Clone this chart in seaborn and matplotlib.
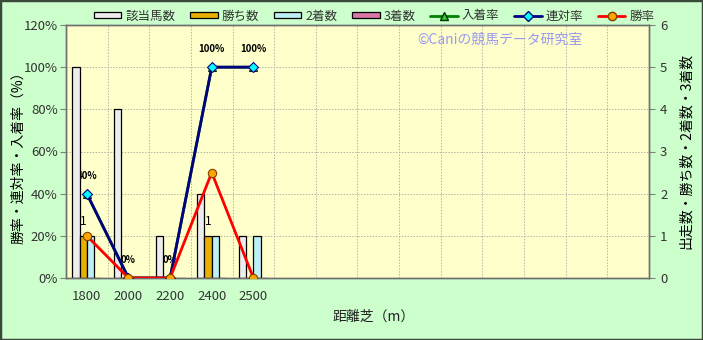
import numpy as np
import pandas as pd
import matplotlib
matplotlib.use("Agg")
import matplotlib.pyplot as plt
import seaborn as sns
from matplotlib.patches import Patch, Rectangle
from matplotlib.lines import Line2D

# ---- data ----
distances = ["1800", "2000", "2200", "2400", "2500"]
n_slots = 14  # total category slots on the x axis
count_series = ["該当馬数", "勝ち数", "2着数", "3着数"]
runners = [5, 4, 1, 2, 1]
wins = [1, 0, 0, 1, 0]
seconds = [1, 0, 0, 1, 1]
thirds = [0, 0, 0, 0, 0]
place_rate = [40, 0, 0, 100, 100]     # 入着率
quinella_rate = [40, 0, 0, 100, 100]  # 連対率
win_rate = [20, 0, 0, 50, 0]          # 勝率
pct_ticks = [0, 20, 40, 60, 80, 100, 120]
count_ticks = [0, 1, 2, 3, 4, 5, 6]

sns.set_theme(style="white")
plt.rcParams["font.family"] = ["Noto Sans CJK JP", "DejaVu Sans"]

FIG_BG = "#CCFFCC"
PLOT_BG = "#FFFFCC"
bar_colors = ["#EDEDED", "#E8B000", "#BDEFF6", "#D877A8"]

fig = plt.figure(figsize=(7.03, 3.40), dpi=100, facecolor=FIG_BG)
ax = fig.add_axes([66/703, 1-278/340, (649-66)/703, (278-25)/340])
ax2 = ax.twinx()
ax.set_zorder(2)
ax2.set_zorder(1)
ax.patch.set_visible(False)
ax2.patch.set_visible(True)
ax2.patch.set_facecolor(PLOT_BG)
ax2.xaxis.set_visible(True)

df = pd.DataFrame({
    "dist": np.repeat(distances, 4),
    "series": count_series * len(distances),
    "value": np.ravel(np.column_stack([runners, wins, seconds, thirds])),
})
sns.barplot(data=df, x="dist", y="value", hue="series", order=distances,
            hue_order=count_series, palette=bar_colors, width=0.70,
            saturation=1, edgecolor="black", linewidth=0.9, ax=ax2,
            legend=False, zorder=2)

x = np.arange(len(distances))
ax.plot(x, place_rate, color="#008000", lw=2, marker="^", ms=6,
        mfc="#33CC33", mec="#003300", mew=0.8, zorder=3)
ax.plot(x, quinella_rate, color="#000080", lw=2, marker="D", ms=5,
        mfc="#00FFFF", mec="#000080", mew=0.8, zorder=4)
ax.plot(x, win_rate, color="#FF0000", lw=2, marker="o", ms=6,
        mfc="#FFA500", mec="#804000", mew=0.8, zorder=5)

# labels (behind bars, like the reference)
for xi, v in zip(x, quinella_rate):
    ax2.annotate(f"{v}%", xy=(xi, v), xycoords=ax.transData,
                 xytext=(0, 13), textcoords="offset points", ha="center",
                 va="center", fontsize=7, fontweight="bold",
                 color="black", zorder=1.5)
bar_w = 0.70 / 4
for xi, v in zip(x, wins):
    if v > 0:
        ax2.annotate(f"{v}", xy=(xi - bar_w/2, v), xytext=(0, 10),
                     textcoords="offset points", ha="center", va="center",
                     fontsize=8.5, color="black", zorder=1.5)

# axes limits & ticks
ax.set_xlim(-0.5, n_slots - 0.5)
ax2.set_xlim(-0.5, n_slots - 0.5)
ax.set_ylim(0, 120)
ax2.set_ylim(0, 6)
ax.set_yticks(pct_ticks)
ax.set_yticklabels([f"{t}%" for t in pct_ticks])
ax2.set_yticks(count_ticks)
ax2.set_yticklabels([str(t) for t in count_ticks])
ax.set_xticks(x)
ax.set_xticklabels(distances)
ax2.xaxis.set_ticks(np.arange(n_slots + 1) - 0.5, minor=True)

tick_color = "#333333"
ax.tick_params(axis="x", length=0, pad=9, labelsize=9.5, labelcolor=tick_color)
ax.tick_params(axis="y", direction="out", length=4, width=0.8, color="#808080",
               labelsize=9.5, labelcolor=tick_color, pad=2, left=True)
ax2.tick_params(axis="y", direction="out", length=4, width=0.8, color="#808080",
                labelsize=9.5, labelcolor=tick_color, pad=4, right=True)
ax2.tick_params(axis="x", which="both", length=0, labelbottom=False)

ax2.set_axisbelow(True)
grid_kw = dict(color="#B4B4A8", ls=(0, (1.5, 1.5)), lw=0.7)
ax2.grid(True, axis="y", which="major", **grid_kw)
ax2.grid(True, axis="x", which="minor", **grid_kw)
ax2.grid(False, axis="x", which="major")
ax.grid(False)

for a in (ax, ax2):
    for s in a.spines.values():
        s.set_color("#707070")
        s.set_linewidth(1.0)

ax.set_xlabel("")
ax2.set_xlabel("")
ax.set_ylabel("")
ax2.set_ylabel("")

fig.text(18/703, 1-154/340, "勝率・連対率・入着率（%）", rotation=90,
         ha="center", va="center", fontsize=10, color="black")
fig.text(686/703, 1-151/340, "出走数・勝ち数・2着数・3着数", rotation=90,
         ha="center", va="center", fontsize=10, color="black")
fig.text(374/703, 1-317/340, "距離芝（m）", ha="center", va="center",
         fontsize=10, color="#222222")
fig.text(500/703, 1-40/340, "©Caniの競馬データ研究室", ha="center",
         va="center", fontsize=10, color="#9999EE")

handles = [Patch(facecolor=c, edgecolor="black", linewidth=0.9) for c in bar_colors]
handles += [
    Line2D([], [], color="#008000", lw=2, marker="^", ms=6, mfc="#33CC33", mec="#003300"),
    Line2D([], [], color="#000080", lw=2, marker="D", ms=5, mfc="#00FFFF", mec="#000080"),
    Line2D([], [], color="#FF0000", lw=2, marker="o", ms=6, mfc="#FFA500", mec="#804000"),
]
labels = count_series + ["入着率", "連対率", "勝率"]
fig.legend(handles, labels, loc="center", bbox_to_anchor=(374/703, 1-16/340),
           ncol=7, frameon=False, fontsize=9, handlelength=2.2,
           handleheight=0.45, handletextpad=0.3, columnspacing=1.2,
           labelcolor="#333333")

fig.add_artist(Rectangle((0, 0), 1, 1, transform=fig.transFigure, fill=False,
                         edgecolor="#3A4A3A", linewidth=2.5))

fig.savefig("out.png", dpi=100, facecolor=FIG_BG)
